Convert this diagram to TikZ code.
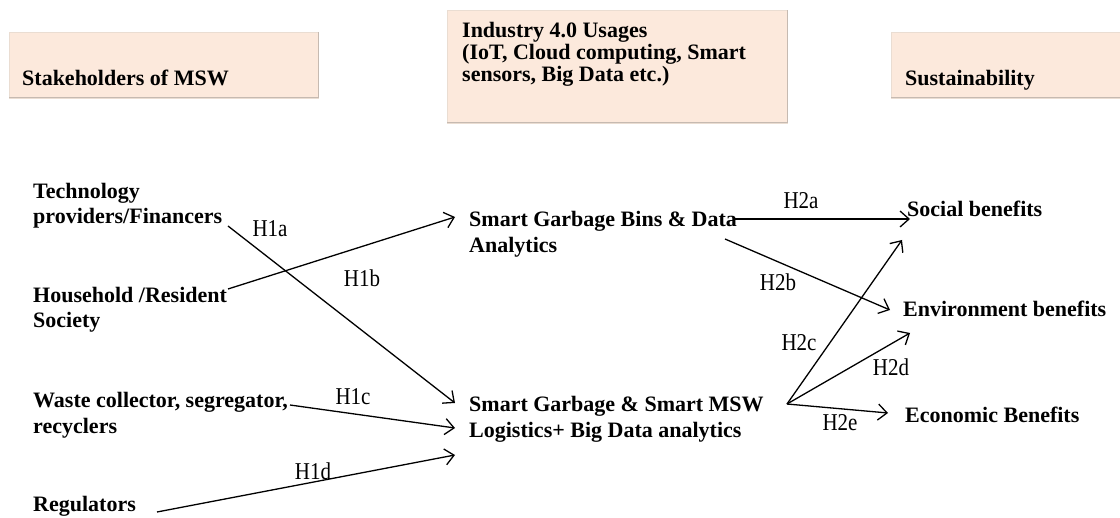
\documentclass[tikz,border=0pt]{standalone}
\usepackage{fontspec}
\setmainfont{Liberation Serif}
\usetikzlibrary{arrows.meta}
\definecolor{boxfill}{HTML}{FCE9DC}
\definecolor{boxedge}{HTML}{EADDD2}
\definecolor{boxshade}{HTML}{C6BAB1}

\begin{document}
\begin{tikzpicture}[x=1pt,y=-1pt,
  % bold block text; the rule fixes the first line's height to 16pt
  txt/.style={anchor=north west, inner sep=0pt, align=left,
    font=\fontsize{22}{#1}\selectfont\bfseries},
  txt/.default=25.5,
  hyp/.style={inner sep=0pt, font=\fontsize{21}{24}\selectfont},
  link/.style={line width=1.3pt,
    -{Straight Barb[length=9pt,width=16pt,line width=1.3pt]}},
  header/.style={fill=boxfill, draw=boxedge, line width=0.8pt},
  shade/.style={draw=boxshade, line width=1pt},
]
\newcommand{\fl}{\rule{0pt}{16pt}}
\newcommand{\tall}[1]{\scalebox{1}[1.15]{#1}}

% canvas
\fill[white] (0,0) rectangle (1120,518);
\useasboundingbox (0,0) rectangle (1120,518);

% header boxes
\path[header] (9,32) rectangle (318,98);
\draw[shade] (9,98) -- (318,98) -- (318,32);
\path[header] (447,10) rectangle (787,123);
\draw[shade] (447,123) -- (787,123) -- (787,10);
\path[header] (891,32) rectangle (1120,98);
\draw[shade] (891,98) -- (1120,98);

\node[txt] (stake) at (22,69) {\fl Stakeholders of MSW};
\node[txt=22] (ind) at (462,21) {\fl Industry 4.0 Usages\\(IoT, Cloud computing, Smart\\sensors, Big Data etc.)};
\node[txt] (sust) at (905,69) {\fl Sustainability};

% stakeholders
\node[txt=25] (tech) at (33,182) {\fl Technology\\providers/Financers};
\node[txt=25] (house) at (33,286) {\fl Household /Resident\\Society};
\node[txt=26] (waste) at (33,391) {\fl Waste collector, segregator,\\recyclers};
\node[txt] (regul) at (33,495) {\fl Regulators};

% Industry 4.0 applications
\node[txt=26] (bins) at (469,210) {\fl Smart Garbage Bins \& Data\\Analytics};
\node[txt=26] (logi) at (469,395) {\fl Smart Garbage \& Smart MSW\\Logistics+ Big Data analytics};

% sustainability outcomes
\node[txt] (social) at (907,200) {\fl Social benefits};
\node[txt] (env) at (903,300) {\fl Environment benefits};
\node[txt] (econ) at (905,406) {\fl Economic Benefits};

% connector end points
\coordinate (techOut) at (228,226);
\coordinate (houseOut) at (228,289);
\coordinate (wasteOut) at (290,405);
\coordinate (regulOut) at (157,512);
\coordinate (binsIn) at (455,217);
\coordinate (logiInA) at (455,403);
\coordinate (logiInC) at (455,428);
\coordinate (logiInD) at (455,455);
\coordinate (binsOutA) at (733,219);
\coordinate (binsOutB) at (725,239);
\coordinate (logiOut) at (787,404);
\coordinate (socialInA) at (910,219);
\coordinate (socialInC) at (902,240);
\coordinate (envInB) at (890,310);
\coordinate (envInD) at (910,333);
\coordinate (econIn) at (888,413);

% hypotheses H1
\draw[link] (techOut) -- (logiInA);
\draw[link] (houseOut) -- (binsIn);
\draw[link] (wasteOut) -- (logiInC);
\draw[link] (regulOut) -- (logiInD);
% hypotheses H2
\draw[link] (binsOutA) -- (socialInA);
\draw[link] (binsOutB) -- (envInB);
\draw[link] (logiOut) -- (socialInC);
\draw[link] (logiOut) -- (envInD);
\draw[link] (logiOut) -- (econIn);

% hypothesis labels
\node[hyp] (h1a) at (270,229) {\tall{H1a}};
\node[hyp] (h1b) at (362,278) {\tall{H1b}};
\node[hyp] (h1c) at (353,397) {\tall{H1c}};
\node[hyp] (h1d) at (313,471) {\tall{H1d}};
\node[hyp] (h2a) at (801,201) {\tall{H2a}};
\node[hyp] (h2b) at (778,282) {\tall{H2b}};
\node[hyp] (h2c) at (799,343) {\tall{H2c}};
\node[hyp] (h2d) at (891,367) {\tall{H2d}};
\node[hyp] (h2e) at (840,423) {\tall{H2e}};
\end{tikzpicture}
\end{document}
